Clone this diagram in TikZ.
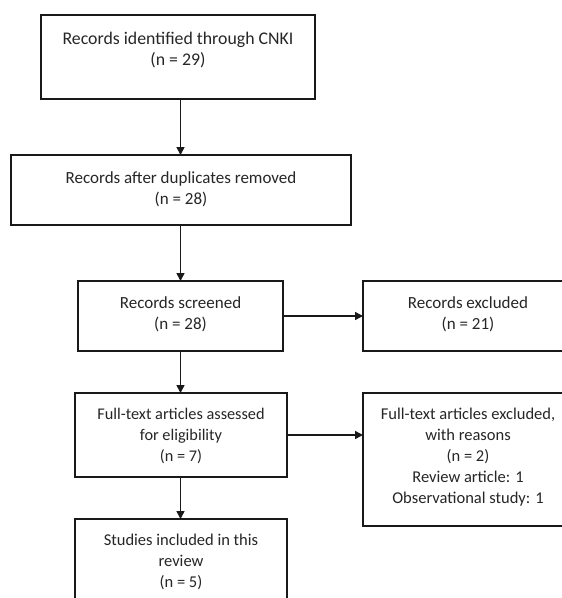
\documentclass[tikz,border=0pt]{standalone}
\usepackage{fontspec}
\setmainfont{Carlito}
\usetikzlibrary{arrows.meta}
\begin{document}
\begin{tikzpicture}[x=1pt,y=-1pt,
  box/.style={draw=black!90, line width=1.6pt, rectangle, inner sep=0pt, outer sep=0pt},
  txt/.style={align=center, inner sep=0pt, font=\fontsize{17}{21.2}\selectfont, text=black!85},
  arr/.style={line width=1.5pt, draw=black!90, -{Triangle[length=8pt,width=8pt]}}]
\useasboundingbox (0,0) rectangle (562,598);
\clip (0,0) rectangle (562,598);
\fill[white] (0,0) rectangle (562,598);
% boxes
\node[box, minimum width=274, minimum height=84] (b1) at (178,57) {};
\node[box, minimum width=340, minimum height=70] (b2) at (181,190) {};
\node[box, minimum width=205, minimum height=70] (b3) at (180.5,316) {};
\node[box, minimum width=212, minimum height=84] (b4) at (181,435) {};
\node[box, minimum width=212, minimum height=84] (b5) at (181,561) {};
\node[box, minimum width=211, minimum height=70] (r1) at (468.5,316) {};
\node[box, minimum width=211, minimum height=133] (r2) at (468.5,459.5) {};
% texts
\node[txt, font=\fontsize{17.8}{21.2}\selectfont] (t1) at (178,50) {Records identified through CNKI\\(n = 29)};
\node[txt] (t2) at (181,189) {Records after duplicates removed\\(n = 28)};
\node[txt] (t3) at (180.5,314) {Records screened\\(n = 28)};
\node[txt, font=\fontsize{16.3}{21.2}\selectfont] (t4) at (181,436) {Full-text articles assessed\\for eligibility\\(n = 7)};
\node[txt, font=\fontsize{16.5}{21.2}\selectfont] (t5) at (181,562) {Studies included in this\\review\\(n = 5)};
\node[txt] (t6) at (468,314) {Records excluded\\(n = 21)};
\node[txt, font=\fontsize{16.5}{21}\selectfont] (t7) at (468,457) {Full-text articles excluded,\\with reasons\\(n = 2)\\Review article: 1\\Observational study: 1};
% arrows
\draw[arr] (b1.south -| b3) -- (b2.north -| b3);
\draw[arr] (b2.south -| b3) -- (b3.north);
\draw[arr] (b3.south) -- (b4.north -| b3);
\draw[arr] (b4.south -| b3) -- (b5.north -| b3);
\draw[arr] (b3.east) -- (r1.west);
\draw[arr] (b4.east) -- (b4.east -| r2.west);
\end{tikzpicture}
\end{document}
